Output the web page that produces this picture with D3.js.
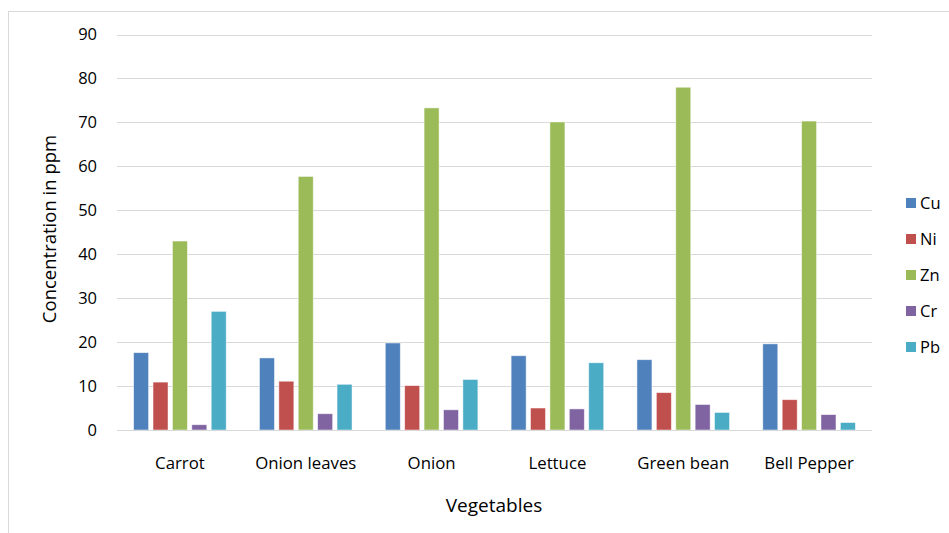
<!DOCTYPE html>
<html><head><meta charset="utf-8">
<script src="https://cdn.jsdelivr.net/npm/d3@7"></script>
<style>body{margin:0;background:#fff}svg{display:block}text{font-family:"Open Sans",sans-serif;fill:#000}</style>
</head><body><svg id="c" width="949" height="533"></svg>
<script>
const categories = ["Carrot","Onion leaves","Onion","Lettuce","Green bean","Bell Pepper"];
const seriesNames = ["Cu","Ni","Zn","Cr","Pb"];
const colors = ["#4F81BD","#C0504D","#9BBB59","#8064A2","#4BACC6"];
const Cu = [17.6,16.4,19.8,16.9,16.0,19.6];
const Ni = [10.9,11.1,10.1,5.0,8.5,6.9];
const Zn = [43.0,57.7,73.3,70.1,78.0,70.3];
const Cr = [1.2,3.7,4.6,4.8,5.8,3.5];
const Pb = [27.0,10.4,11.5,15.3,4.0,1.7];
const yTicks = [0,10,20,30,40,50,60,70,80,90];
const seriesValues = [Cu,Ni,Zn,Cr,Pb];

const svg = d3.select("#c");
svg.append("rect").attr("x",8.5).attr("y",11.5).attr("width",960).attr("height",560)
  .attr("fill","#fff").attr("stroke","#D9D9D9");

const L=117, R=872, T=34.5, B=430;
const x = d3.scaleBand().domain(categories).range([L,R]);
const y = d3.scaleLinear().domain([0,90]).range([B,T]);
const barW = 15, step = 19.4;
const xs = d3.scaleBand().domain(seriesNames).range([0,step*5]);

// gridlines
svg.append("g").selectAll("line").data(yTicks.filter(d=>d>0)).join("line")
  .attr("x1",L).attr("x2",R).attr("y1",d=>Math.round(y(d))+0.5).attr("y2",d=>Math.round(y(d))+0.5)
  .attr("stroke","#D9D9D9").attr("stroke-width",1);

// y tick labels
svg.append("g").selectAll("text").data(yTicks).join("text")
  .attr("x",97).attr("y",d=>y(d)).attr("dy","0.35em").attr("text-anchor","end")
  .attr("font-size",16.5).text(d=>d);

// bars
seriesNames.forEach((s,i)=>{
  svg.append("g").selectAll("rect").data(seriesValues[i]).join("rect")
    .attr("x",(d,j)=>x(categories[j])+x.bandwidth()/2 - step*2.5 + xs(s) + (step-barW)/2)
    .attr("y",d=>y(d)).attr("width",barW).attr("height",d=>B-y(d))
    .attr("fill",colors[i]).attr("stroke","#fff").attr("stroke-opacity",0.6).attr("stroke-width",0.8);
});

// baseline
svg.append("line").attr("x1",L).attr("x2",R).attr("y1",B+0.5).attr("y2",B+0.5)
  .attr("stroke","#D9D9D9").attr("stroke-width",1.2);

// category labels
svg.append("g").selectAll("text").data(categories).join("text")
  .attr("x",d=>x(d)+x.bandwidth()/2).attr("y",468.5).attr("text-anchor","middle")
  .attr("font-size",16.8).text(d=>d);

// axis titles
svg.append("text").attr("x",494).attr("y",512).attr("text-anchor","middle").attr("font-size",19).text("Vegetables");
svg.append("text").attr("transform","translate(56,229) rotate(-90)").attr("text-anchor","middle")
  .attr("font-size",18.5).text("Concentration in ppm");

// legend
const lg = svg.append("g").selectAll("g").data(seriesNames).join("g")
  .attr("transform",(d,i)=>`translate(906,${203+i*36})`);
lg.append("rect").attr("x",0).attr("y",-5).attr("width",10).attr("height",10).attr("fill",(d,i)=>colors[i]);
lg.append("text").attr("x",14).attr("y",0).attr("dy","0.35em").attr("font-size",16.5).text(d=>d);
</script></body></html>
